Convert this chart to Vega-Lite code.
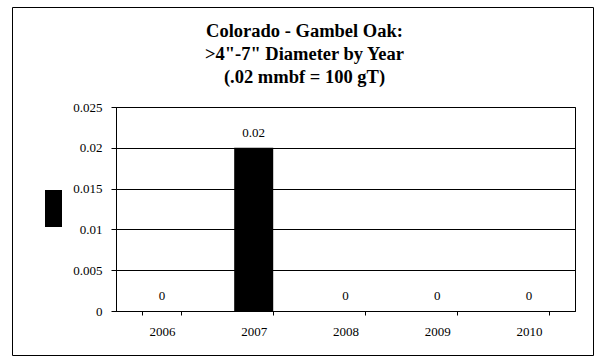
{
  "$schema": "https://vega.github.io/schema/vega-lite/v6.json",
  "width": 459,
  "height": 204,
  "autosize": {"type": "none"},
  "padding": {"left": 116, "top": 107, "right": 24, "bottom": 51},
  "background": "white",
  "title": {
    "text": ["Colorado - Gambel Oak:", ">4\"-7\" Diameter by Year", "(.02 mmbf = 100 gT)"],
    "font": "Liberation Serif",
    "fontSize": 18.5,
    "fontWeight": "bold",
    "lineHeight": 23,
    "color": "black",
    "anchor": "middle",
    "frame": "group",
    "dx": -41,
    "offset": -80
  },
  "data": {
    "values": [
      {"year": "2006", "value": 0, "series": "Series1"},
      {"year": "2007", "value": 0.02, "series": "Series1"},
      {"year": "2008", "value": 0, "series": "Series1"},
      {"year": "2009", "value": 0, "series": "Series1"},
      {"year": "2010", "value": 0, "series": "Series1"}
    ]
  },
  "config": {
    "view": {"stroke": "black", "strokeWidth": 1},
    "font": "Liberation Serif"
  },
  "layer": [
    {
      "mark": {"type": "bar"},
      "encoding": {
        "x": {
          "field": "year", "type": "ordinal",
          "scale": {"paddingInner": 0.575, "paddingOuter": 0.2875},
          "axis": {
            "title": null, "labelAngle": 0, "labelFontSize": 13, "labelColor": "black",
            "labelFont": "Liberation Serif",
            "tickBand": "extent", "tickSize": 4, "tickColor": "black",
            "domainColor": "black", "labelPadding": 10
          }
        },
        "y": {
          "field": "value", "type": "quantitative",
          "scale": {"domain": [0, 0.025], "nice": false},
          "axis": {
            "title": null, "values": [0, 0.005, 0.01, 0.015, 0.02, 0.025],
            "format": ".3~f", "labelFontSize": 13, "labelColor": "black",
            "labelFont": "Liberation Serif",
            "tickSize": 5, "tickColor": "black", "domainColor": "black",
            "gridColor": "black", "gridOpacity": 1, "labelPadding": 9
          }
        },
        "color": {
          "field": "series", "type": "nominal",
          "scale": {"range": ["black"]},
          "legend": {
            "title": null, "orient": "none", "legendX": -104, "legendY": -100,
            "labelExpr": "''", "padding": 0,
            "strokeColor": "black",
            "symbolType": "M0.7838,8.8919H1.7027V10.8919H0.7838Z M30.4054,17.8108",
            "symbolSize": 1369, "symbolStrokeWidth": 0, "symbolFillColor": "black",
            "symbolOpacity": 1
          }
        }
      }
    },
    {
      "mark": {"type": "text", "baseline": "alphabetic", "dy": -11, "fontSize": 13, "font": "Liberation Serif", "color": "black"},
      "encoding": {
        "x": {"field": "year", "type": "ordinal"},
        "y": {"field": "value", "type": "quantitative"},
        "text": {"field": "value", "type": "quantitative", "format": ".3~f"}
      }
    }
  ]
}
